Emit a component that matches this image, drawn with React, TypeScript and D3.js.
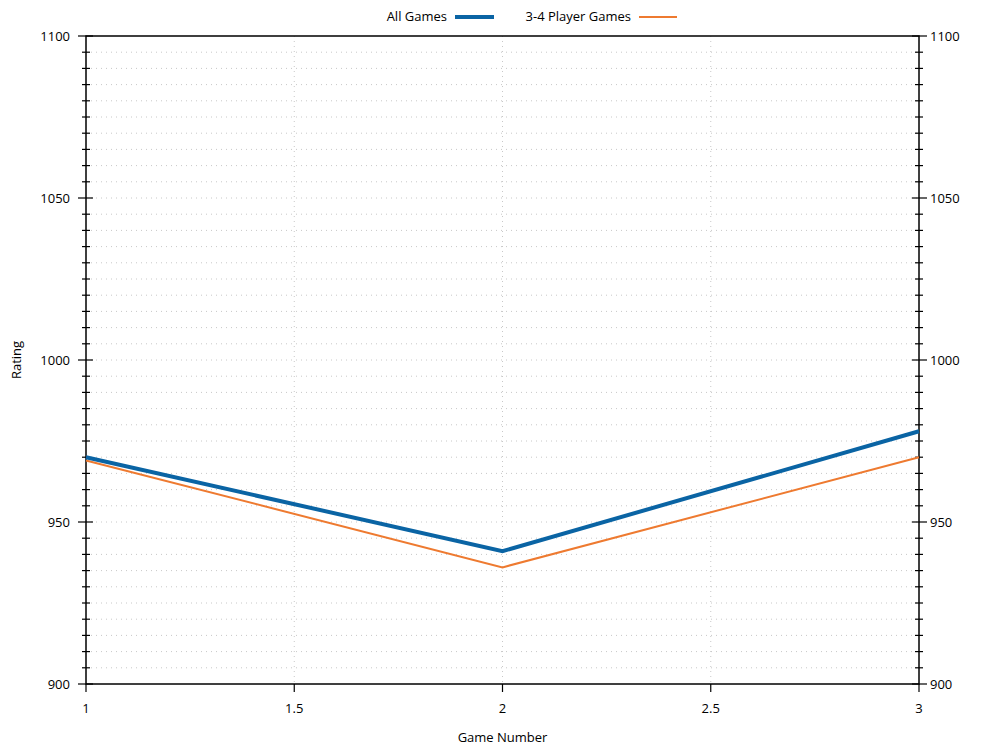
import React from "react";
import * as d3 from "d3";

const gameNumbers = [1, 2, 3];
const allGames = [970, 941, 978];
const threeFourPlayer = [969, 936, 970];
const xTicks = [1, 1.5, 2, 2.5, 3];
const yMajorTicks = [900, 950, 1000, 1050, 1100];
const seriesNames = ["All Games", "3-4 Player Games"];

const W = 1000, H = 750;
const L = 86, R = 919, T = 36, B = 684;
const FONT = "'Open Sans', 'Noto Sans', sans-serif";
const FS = 13;

export default function App() {
  const x = d3.scaleLinear().domain([1, 3]).range([L, R]);
  const y = d3.scaleLinear().domain([900, 1100]).range([B, T]);
  const minor = d3.range(900, 1100.01, 5).filter((v) => v % 50 !== 0);
  const gridY = d3.range(905, 1100, 5);
  const line = d3
    .line<number>()
    .x((_, i) => x(gameNumbers[i]))
    .y((d) => y(d));
  const blue = "#0a64a4";
  const orange = "#ee7a30";
  return (
    <svg width={W} height={H} style={{ position: "absolute", left: 0, top: 0, background: "#fff" }} fontFamily={FONT}>
      <rect width={W} height={H} fill="#fff" />
      {gridY.map((v) => (
        <line key={"gy" + v} x1={L} x2={R} y1={y(v)} y2={y(v)} stroke="#c8c8c8" strokeWidth={1} strokeDasharray="1,4" />
      ))}
      {xTicks.slice(1, -1).map((v) => (
        <line key={"gx" + v} x1={x(v)} x2={x(v)} y1={T} y2={B} stroke="#c8c8c8" strokeWidth={1} strokeDasharray="1,4" />
      ))}
      <rect x={L} y={T} width={R - L} height={B - T} fill="none" stroke="#000" strokeWidth={1.5} />
      {minor.map((v) => (
        <g key={"mt" + v}>
          <line x1={L - 4} x2={L + 4} y1={y(v)} y2={y(v)} stroke="#000" strokeWidth={1.2} />
          <line x1={R - 4} x2={R + 4} y1={y(v)} y2={y(v)} stroke="#000" strokeWidth={1.2} />
        </g>
      ))}
      {yMajorTicks.map((v) => (
        <g key={"yt" + v}>
          <line x1={L - 8} x2={L + 7} y1={y(v)} y2={y(v)} stroke="#000" strokeWidth={1.2} />
          <line x1={R - 7} x2={R + 8} y1={y(v)} y2={y(v)} stroke="#000" strokeWidth={1.2} />
          <text x={L - 16} y={y(v)} dy="0.35em" textAnchor="end" fontSize={FS} fill="#000">{v}</text>
          <text x={R + 11} y={y(v)} dy="0.35em" textAnchor="start" fontSize={FS} fill="#000">{v}</text>
        </g>
      ))}
      {xTicks.map((v) => (
        <g key={"xt" + v}>
          <line x1={x(v)} x2={x(v)} y1={B} y2={B + 8} stroke="#000" strokeWidth={1.2} />
          <text x={x(v)} y={713} textAnchor="middle" fontSize={FS} fill="#000">{v}</text>
        </g>
      ))}
      <text x={(L + R) / 2} y={742} textAnchor="middle" fontSize={FS} fill="#000">Game Number</text>
      <text transform={`translate(21,${(T + B) / 2}) rotate(-90)`} textAnchor="middle" fontSize={FS} fill="#000">Rating</text>
      <path d={line(threeFourPlayer) || ""} fill="none" stroke={orange} strokeWidth={2} />
      <path d={line(allGames) || ""} fill="none" stroke={blue} strokeWidth={4} />
      <text x={447} y={21} textAnchor="end" fontSize={FS} fill="#000">{seriesNames[0]}</text>
      <line x1={455} x2={494} y1={17} y2={17} stroke={blue} strokeWidth={4} />
      <text x={631} y={21} textAnchor="end" fontSize={FS} fill="#000">{seriesNames[1]}</text>
      <line x1={639} x2={677} y1={17} y2={17} stroke={orange} strokeWidth={2} />
    </svg>
  );
}
